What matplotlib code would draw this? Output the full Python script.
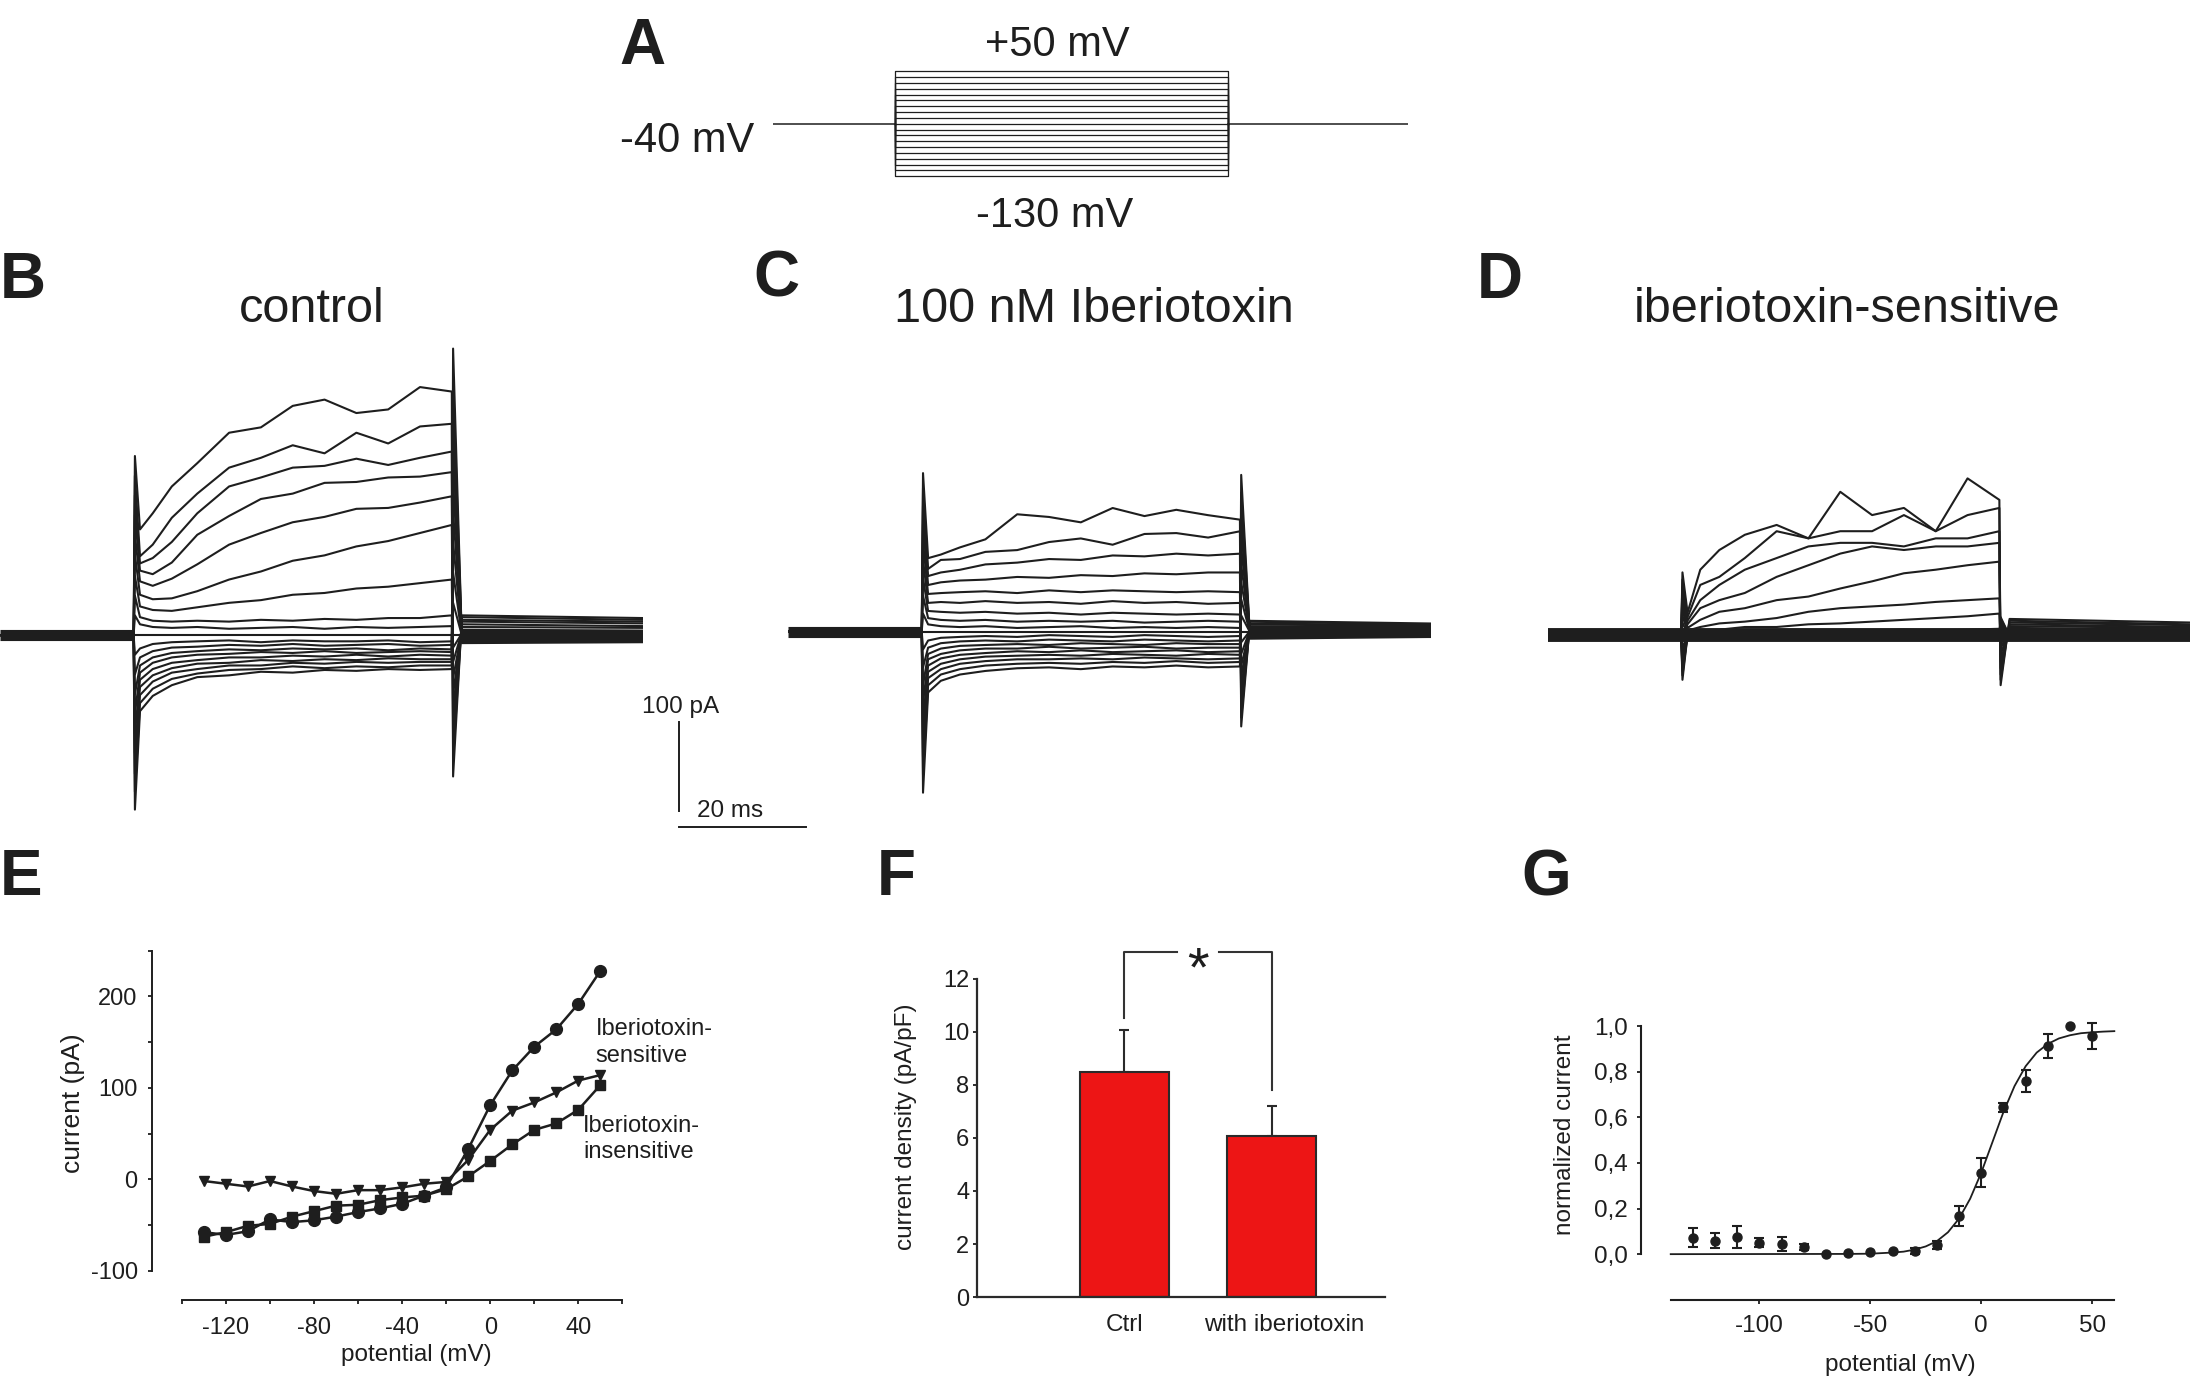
import matplotlib
matplotlib.use("Agg")
import matplotlib.pyplot as plt

plt.rcParams['font.family'] = ['Liberation Sans', 'DejaVu Sans']
plt.rcParams['axes.unicode_minus'] = False
INK = '#1e1e1e'

# ---------------------------------------------------------------- data
step_mV = [-130, -120, -110, -100, -90, -80, -70, -60, -50, -40,
           -30, -20, -10, 0, 10, 20, 30, 40, 50]
hold_mV = -40
protocol_ms = [0.0, 18.3, 68.3, 95.4]          # start, step on, step off, end

trace_ms = [0.0, 21.0, 71.0, 101.0]            # start, step on, step off, end
sample_ms = [1, 3, 6, 10, 15, 20, 25, 30, 35, 40, 45, 50]   # after step onset

# panel B: control currents (pA), one row per step, -130 ... +50 mV
ctrl_step_pA = [
    [-85, -68, -56, -47, -45, -41, -42, -39, -40, -38, -39, -38],
    [-76, -60, -49, -43, -39, -38, -35, -37, -35, -36, -34, -34],
    [-67, -52, -42, -38, -34, -34, -31, -32, -30, -31, -30, -30],
    [-58, -45, -37, -32, -31, -28, -29, -27, -28, -26, -27, -27],
    [-50, -38, -31, -28, -25, -25, -23, -24, -22, -24, -22, -23],
    [-42, -31, -25, -22, -21, -19, -20, -18, -20, -19, -18, -19],
    [-34, -25, -20, -18, -16, -17, -15, -16, -15, -17, -15, -16],
    [-25, -18, -14, -13, -11, -12, -10, -12, -11, -10, -12, -11],
    [-15, -10, -8, -7, -6, -8, -6, -7, -7, -6, -8, -7],
    [0, 0, 0, 0, 0, 0, 0, 0, 0, 0, 0, 0],
    [12, 9, 8, 9, 7, 8, 9, 7, 9, 8, 9, 10],
    [20, 16, 15, 16, 15, 17, 16, 18, 17, 19, 19, 22],
    [32, 28, 27, 31, 36, 39, 45, 47, 52, 54, 58, 62],
    [45, 40, 41, 49, 62, 71, 83, 89, 99, 105, 114, 123],
    [60, 55, 63, 79, 101, 114, 126, 132, 141, 142, 148, 155],
    [72, 68, 81, 112, 133, 152, 158, 170, 171, 176, 177, 182],
    [80, 86, 104, 136, 166, 176, 187, 189, 197, 190, 198, 205],
    [88, 101, 131, 158, 187, 198, 212, 203, 226, 214, 233, 236],
    [118, 136, 166, 192, 226, 232, 256, 263, 248, 252, 277, 272],
]
ctrl_on_pk = [-195, -175, -155, -132, -110, -88, -66, -44, -22, 0,
              22, 44, 66, 90, 112, 134, 156, 178, 200]
ctrl_off_pk = [320, 282, 245, 208, 172, 138, 104, 70, 36, 0,
               -14, -30, -48, -66, -84, -102, -120, -140, -158]
ctrl_tail0 = [-9, -8, -7, -6, -5, -4, -3, -2, -1, 0, 2, 4, 6, 9, 12, 15, 17, 20, 22]
ctrl_tail1 = [-8, -7, -7, -6, -5, -4, -3, -2, -1, 0, 2, 4, 5, 8, 10, 13, 15, 17, 19]

# panel C: 100 nM iberiotoxin
ibtx_step_pA = [
    [-68, -55, -48, -44, -41, -40, -42, -39, -40, -38, -40, -39],
    [-60, -48, -42, -38, -36, -35, -36, -34, -35, -33, -35, -34],
    [-52, -42, -36, -33, -31, -31, -30, -31, -29, -30, -31, -30],
    [-45, -36, -31, -28, -27, -26, -27, -25, -26, -27, -25, -26],
    [-38, -30, -26, -24, -22, -23, -21, -23, -22, -21, -23, -22],
    [-31, -25, -21, -19, -19, -17, -19, -18, -17, -19, -18, -18],
    [-25, -19, -16, -15, -14, -15, -13, -14, -15, -13, -14, -14],
    [-18, -13, -11, -10, -11, -9, -10, -11, -9, -10, -11, -10],
    [-10, -7, -6, -5, -6, -4, -5, -6, -4, -5, -6, -5],
    [0, 0, 0, 0, 0, 0, 0, 0, 0, 0, 0, 0],
    [8, 6, 5, 6, 4, 5, 6, 4, 5, 4, 5, 4],
    [15, 13, 12, 13, 11, 12, 11, 12, 10, 11, 12, 11],
    [23, 22, 21, 22, 20, 21, 19, 21, 20, 19, 20, 19],
    [32, 33, 32, 34, 32, 33, 31, 34, 32, 33, 31, 32],
    [42, 43, 44, 45, 43, 46, 44, 46, 45, 44, 45, 44],
    [52, 55, 57, 58, 61, 60, 63, 62, 65, 64, 66, 66],
    [62, 66, 69, 75, 77, 81, 80, 85, 84, 87, 85, 87],
    [70, 80, 81, 89, 91, 100, 104, 97, 109, 110, 105, 112],
    [82, 86, 94, 103, 131, 128, 122, 138, 129, 136, 130, 125],
]
ibtx_on_pk = [-180, -160, -140, -120, -100, -80, -60, -40, -20, 0,
              20, 40, 60, 80, 100, 120, 140, 160, 177]
ibtx_off_pk = [175, 155, 135, 115, 95, 75, 55, 36, 18, 0,
               -12, -25, -38, -50, -62, -74, -86, -96, -106]
ibtx_tail0 = [-8, -7, -6, -5, -4, -4, -3, -2, -1, 0, 1, 2, 4, 5, 6, 8, 9, 11, 12]
ibtx_tail1 = [-6, -5, -5, -4, -3, -3, -2, -2, -1, 0, 1, 2, 3, 4, 5, 6, 7, 8, 9]

# panel D: iberiotoxin-sensitive currents
sens_step_pA = [
    [0, 0, 0, 0, 0, 0, 0, 0, 0, 0, 0, 0],
    [0, 0, 0, 0, 0, 0, 0, 0, 0, 0, 0, 0],
    [0, 0, 0, 0, 0, 0, 0, 0, 0, 0, 0, 0],
    [0, 0, 0, 0, 0, 0, 0, 0, 0, 0, 0, 0],
    [0, 0, 0, 0, 0, 0, 0, 0, 0, 0, 0, 0],
    [0, 0, 0, 0, 0, 0, 0, 0, 0, 0, 0, 0],
    [0, 0, 0, 0, 0, 0, 0, 0, 0, 0, 0, 0],
    [0, 0, 0, 0, 0, 0, 0, 0, 0, 0, 0, 0],
    [0, 0, 0, 0, 0, 0, 0, 0, 0, 0, 0, 0],
    [0, 0, 0, 0, 0, 0, 0, 0, 0, 0, 0, 0],
    [0, 0, 0, 0, 0, 0, 0, 0, 0, 0, 0, 0],
    [1, 3, 2, 4, 3, 5, 4, 5, 6, 5, 6, 7],
    [3, 5, 6, 9, 9, 12, 13, 15, 17, 19, 21, 24],
    [5, 9, 13, 15, 19, 26, 30, 32, 34, 37, 39, 41],
    [8, 17, 26, 30, 39, 43, 52, 60, 69, 73, 78, 82],
    [12, 30, 39, 47, 65, 78, 91, 99, 95, 99, 99, 103],
    [16, 39, 56, 73, 86, 99, 103, 103, 99, 108, 108, 116],
    [20, 56, 65, 86, 116, 108, 116, 116, 134, 116, 134, 142],
    [25, 73, 95, 112, 123, 108, 160, 134, 142, 116, 175, 151],
]
sens_on_pk = [-50, -45, -40, -35, -30, -25, -20, -14, -7, 0,
              7, 14, 22, 30, 38, 46, 54, 62, 70]
sens_off_pk = [20, 18, 16, 14, 12, 10, 8, 5, 3, 0,
               -5, -10, -15, -22, -30, -37, -44, -50, -56]
sens_tail0 = [-1, -1, -1, 0, 0, 0, 0, 0, 0, 0, 2, 4, 6, 8, 10, 12, 14, 16, 18]
sens_tail1 = [0, 0, 0, 0, 0, 0, 0, 0, 0, 0, 1, 3, 4, 6, 8, 9, 11, 12, 14]

scalebar_pA = 100
scalebar_ms = 20

# panel E: I-V relations (pA)
e_control = [-58, -61, -57, -44, -47, -45, -41, -36, -32, -27,
             -18, -9, 33, 81, 119, 145, 164, 192, 228]
e_sensitive = [-2, -5, -8, -2, -8, -13, -16, -12, -12, -9,
               -5, -3, 21, 54, 75, 84, 95, 108, 114]
e_insensitive = [-63, -58, -51, -49, -41, -35, -29, -28, -23, -20,
                 -18, -11, 3, 20, 38, 54, 61, 76, 103]
e_xticks = [-120, -80, -40, 0, 40]
e_xticks_minor = [-140, -100, -60, -20, 20, 60]
e_yticks = [-100, 0, 100, 200]
e_yticks_minor = [-50, 50, 150, 250]

# panel F: current density (pA/pF)
f_groups = ['Ctrl', 'with iberiotoxin']
f_mean = [8.49, 6.06]
f_sem = [1.58, 1.14]
f_yticks = [0, 2, 4, 6, 8, 10, 12]

# panel G: normalized iberiotoxin-sensitive current
g_norm = [0.073, 0.058, 0.076, 0.050, 0.044, 0.032, 0.000, 0.003, 0.010, 0.015,
          0.013, 0.040, 0.167, 0.358, 0.645, 0.758, 0.912, 1.000, 0.956]
g_err = [0.043, 0.033, 0.047, 0.020, 0.030, 0.012, 0.0, 0.0, 0.0, 0.0,
         0.012, 0.018, 0.045, 0.063, 0.020, 0.048, 0.052, 0.0, 0.058]
g_fit_mV = [-140, -60, -50, -40, -35, -30, -25, -20, -15, -10, -5, 0,
            5, 10, 15, 20, 25, 30, 35, 40, 45, 50, 55, 60]
g_fit = [0.0, 0.001, 0.002, 0.007, 0.011, 0.020, 0.034, 0.057, 0.096, 0.156, 0.243, 0.357,
         0.490, 0.623, 0.737, 0.824, 0.884, 0.922, 0.946, 0.960, 0.969, 0.973, 0.976, 0.978]
g_yticks = [0.0, 0.2, 0.4, 0.6, 0.8, 1.0]
g_yticklabels = ['0,0', '0,2', '0,4', '0,6', '0,8', '1,0']
g_xticks = [-100, -50, 0, 50]

# ---------------------------------------------------------------- layout helpers
W, H = 1568.0, 993.0
fig = plt.figure(figsize=(21.93, 13.89), dpi=100)


def ax_at(x0, y0, x1, y1):
    return fig.add_axes([x0 / W, 1 - y1 / H, (x1 - x0) / W, (y1 - y0) / H])


def ftext(x, y, s, **kw):
    kw.setdefault('color', INK)
    fig.text(x / W, 1 - y / H, s, **kw)


# ---------------------------------------------------------------- panel A
axA = ax_at(553, 40.6, 1007, 134.3)
axA.set_xlim(0, 95.4)
axA.set_ylim(-150, 75)
axA.axis('off')
p0, pon, poff, pend = protocol_ms
for v in step_mV:
    axA.plot([pon, pon, poff, poff], [hold_mV, v, v, hold_mV], color=INK, lw=0.9)
axA.plot([p0, pon], [hold_mV, hold_mV], color=INK, lw=1.1)
axA.plot([poff, pend], [hold_mV, hold_mV], color=INK, lw=1.1)

ftext(443, 46, 'A', fontsize=46, fontweight='bold', ha='left', va='baseline')
ftext(756, 40, '+50 mV', fontsize=30, ha='center', va='baseline')
ftext(491, 109, '-40 mV', fontsize=30, ha='center', va='baseline')
ftext(754, 162, '-130 mV', fontsize=30, ha='center', va='baseline')

# ---------------------------------------------------------------- trace panels
MS_PX, PA_PX = 4.55, 0.64   # display px per ms / per pA


def trace_axes(x_start, baseline):
    ax = ax_at(x_start, baseline - 360 * PA_PX, x_start + 101 * MS_PX, baseline + 260 * PA_PX)
    ax.set_xlim(0, 101)
    ax.set_ylim(-260, 360)
    ax.axis('off')
    return ax


def draw_traces(ax, step_pA, on_pk, off_pk, tail0, tail1, band_lw, band_full=False):
    t0, ton, toff, tend = trace_ms
    if band_full:
        ax.plot([t0, tend], [0, 0], color=INK, lw=band_lw, solid_capstyle='butt')
    else:
        ax.plot([t0, ton], [0, 0], color=INK, lw=band_lw, solid_capstyle='butt')
        ax.plot([toff + 1.6, tend], [0, 0], color=INK, lw=band_lw, solid_capstyle='butt')
    for i in range(len(step_mV)):
        t = [t0, ton, ton + 0.2] + [ton + s for s in sample_ms] + [toff + 0.2, toff + 1.6, tend]
        y = [0, 0, on_pk[i]] + list(step_pA[i]) + [off_pk[i], tail0[i], tail1[i]]
        ax.plot(t, y, color=INK, lw=1.5)


axB = trace_axes(0, 454)
draw_traces(axB, ctrl_step_pA, ctrl_on_pk, ctrl_off_pk, ctrl_tail0, ctrl_tail1, 8)
axC = trace_axes(563.5, 451.5)
draw_traces(axC, ibtx_step_pA, ibtx_on_pk, ibtx_off_pk, ibtx_tail0, ibtx_tail1, 8)
axD = trace_axes(1106.5, 454)
draw_traces(axD, sens_step_pA, sens_on_pk, sens_off_pk, sens_tail0, sens_tail1, 10, band_full=True)

# scale bar (drawn in panel B units)
sb_t = 106.7
sb_top = -97
axB.plot([sb_t, sb_t], [sb_top, sb_top - scalebar_pA], color=INK, lw=1.4, clip_on=False)
axB.plot([sb_t, sb_t + scalebar_ms], [-214, -214], color=INK, lw=1.4, clip_on=False)
ftext(459, 509.4, '100 pA', fontsize=17.5, ha='left', va='baseline')
ftext(498, 584, '20 ms', fontsize=17.5, ha='left', va='baseline')

ftext(0, 213, 'B', fontsize=46, fontweight='bold', ha='left', va='baseline')
ftext(539, 212, 'C', fontsize=46, fontweight='bold', ha='left', va='baseline')
ftext(1056, 213, 'D', fontsize=46, fontweight='bold', ha='left', va='baseline')
ftext(223, 230, 'control', fontsize=35, ha='center', va='baseline')
ftext(782, 230, '100 nM Iberiotoxin', fontsize=35, ha='center', va='baseline')
ftext(1321, 230, 'iberiotoxin-sensitive', fontsize=35, ha='center', va='baseline')

# ---------------------------------------------------------------- panel E
axE = ax_at(108.6, 679.75, 460.75, 929.2)
axE.set_xlim(-153.6, 70)
axE.set_ylim(-132, 250)
for s in ['top', 'right']:
    axE.spines[s].set_visible(False)
axE.spines['left'].set_bounds(-100, 250)
axE.spines['bottom'].set_bounds(-140, 60)
for s in ['left', 'bottom']:
    axE.spines[s].set_linewidth(1.4)
    axE.spines[s].set_color(INK)
axE.set_xticks(e_xticks)
axE.set_xticklabels([str(v) for v in e_xticks])
axE.set_xticks(e_xticks_minor, minor=True)
axE.set_yticks(e_yticks)
axE.set_yticklabels([str(v) for v in e_yticks])
axE.set_yticks(e_yticks_minor, minor=True)
axE.tick_params(which='both', direction='out', length=3.2, width=1.3, color=INK,
                labelcolor=INK, labelsize=17)
axE.tick_params(axis='x', which='both', pad=9)
axE.tick_params(axis='y', which='both', pad=7)
axE.plot(step_mV, e_insensitive, '-s', color=INK, ms=7, lw=1.8, clip_on=False)
axE.plot(step_mV, e_sensitive, '-v', color=INK, ms=7.5, lw=1.8, clip_on=False)
axE.plot(step_mV, e_control, '-o', color=INK, ms=8.5, lw=1.8, clip_on=False)
ftext(426, 740, 'Iberiotoxin-', fontsize=17, ha='left', va='baseline')
ftext(426, 759, 'sensitive', fontsize=17, ha='left', va='baseline')
ftext(417, 809, 'Iberiotoxin-', fontsize=17, ha='left', va='baseline')
ftext(417, 828, 'insensitive', fontsize=17, ha='left', va='baseline')
ftext(52, 789, 'current (pA)', fontsize=19, rotation=90, ha='center', va='center')
ftext(298, 968.5, 'potential (mV)', fontsize=17.5, ha='center', va='center')
ftext(0, 640, 'E', fontsize=46, fontweight='bold', ha='left', va='baseline')

# ---------------------------------------------------------------- panel F
axF = ax_at(698.8, 671.2, 998.6, 927.3)
axF.set_xlim(0, 2.85)
axF.set_ylim(0, 13.5)
for s in ['top', 'right']:
    axF.spines[s].set_visible(False)
axF.spines['left'].set_bounds(0, 12)
axF.spines['bottom'].set_bounds(0, 2.77)
for s in ['left', 'bottom']:
    axF.spines[s].set_linewidth(1.6)
    axF.spines[s].set_color('#2a2a2a')
f_x = [1, 2]
axF.errorbar(f_x, f_mean, yerr=[[0, 0], f_sem], fmt='none', ecolor='#2a2a2a',
             elinewidth=1.5, capsize=3.5, capthick=1.5, zorder=1)
axF.bar(f_x, f_mean, width=0.6, color='#ED1515', edgecolor='#2a2a2a', linewidth=1.5, zorder=2)
axF.set_yticks(f_yticks)
axF.set_yticklabels([str(v) for v in f_yticks])
axF.set_xticks([1, 2.084])
axF.set_xticklabels(f_groups)
axF.tick_params(axis='y', direction='out', length=3.2, width=1.3, color=INK,
                labelcolor=INK, labelsize=17, pad=2.7)
axF.tick_params(axis='x', length=0, labelcolor=INK, labelsize=17.5, pad=12.5)
bk = '#333333'
axF.plot([1, 1, 1.36], [10.5, 13.02, 13.02], color=bk, lw=1.5, clip_on=False)
axF.plot([1.645, 2, 2], [13.02, 13.02, 7.8], color=bk, lw=1.5, clip_on=False)
axF.text(1.5, 11.75, '*', fontsize=40, ha='center', va='baseline', color=INK)
ftext(648, 805.6, 'current density (pA/pF)', fontsize=17.5, rotation=90, ha='center', va='center')
ftext(627, 640, 'F', fontsize=46, fontweight='bold', ha='left', va='baseline')

# ---------------------------------------------------------------- panel G
axG = ax_at(1173, 728.7, 1527.6, 929.2)
axG.set_xlim(-153.6, 70)
axG.set_ylim(-0.2, 1.03)
for s in ['top', 'right']:
    axG.spines[s].set_visible(False)
axG.spines['left'].set_bounds(0, 1)
axG.spines['bottom'].set_bounds(-140, 60)
for s in ['left', 'bottom']:
    axG.spines[s].set_linewidth(1.5)
    axG.spines[s].set_color(INK)
axG.set_yticks(g_yticks)
axG.set_yticklabels(g_yticklabels)
axG.set_xticks(g_xticks)
axG.set_xticklabels([str(v) for v in g_xticks])
axG.tick_params(direction='out', length=3.2, width=1.3, color=INK, labelcolor=INK, labelsize=17.5)
axG.tick_params(axis='y', pad=6)
axG.tick_params(axis='x', pad=8)
axG.plot(g_fit_mV, g_fit, color=INK, lw=1.3)
idx = [i for i in range(len(step_mV)) if g_err[i] > 0]
axG.errorbar([step_mV[i] for i in idx], [g_norm[i] for i in idx], yerr=[g_err[i] for i in idx],
             fmt='none', ecolor=INK, elinewidth=1.5, capsize=3.5, capthick=1.5, clip_on=False)
axG.plot(step_mV, g_norm, 'o', color=INK, ms=6.5, clip_on=False)
ftext(1119, 811, 'normalized current', fontsize=17.5, rotation=90, ha='center', va='center')
ftext(1358.5, 976, 'potential (mV)', fontsize=17.5, ha='center', va='center')
ftext(1088, 640, 'G', fontsize=46, fontweight='bold', ha='left', va='baseline')

fig.savefig('out.png', dpi=100, facecolor='white')
